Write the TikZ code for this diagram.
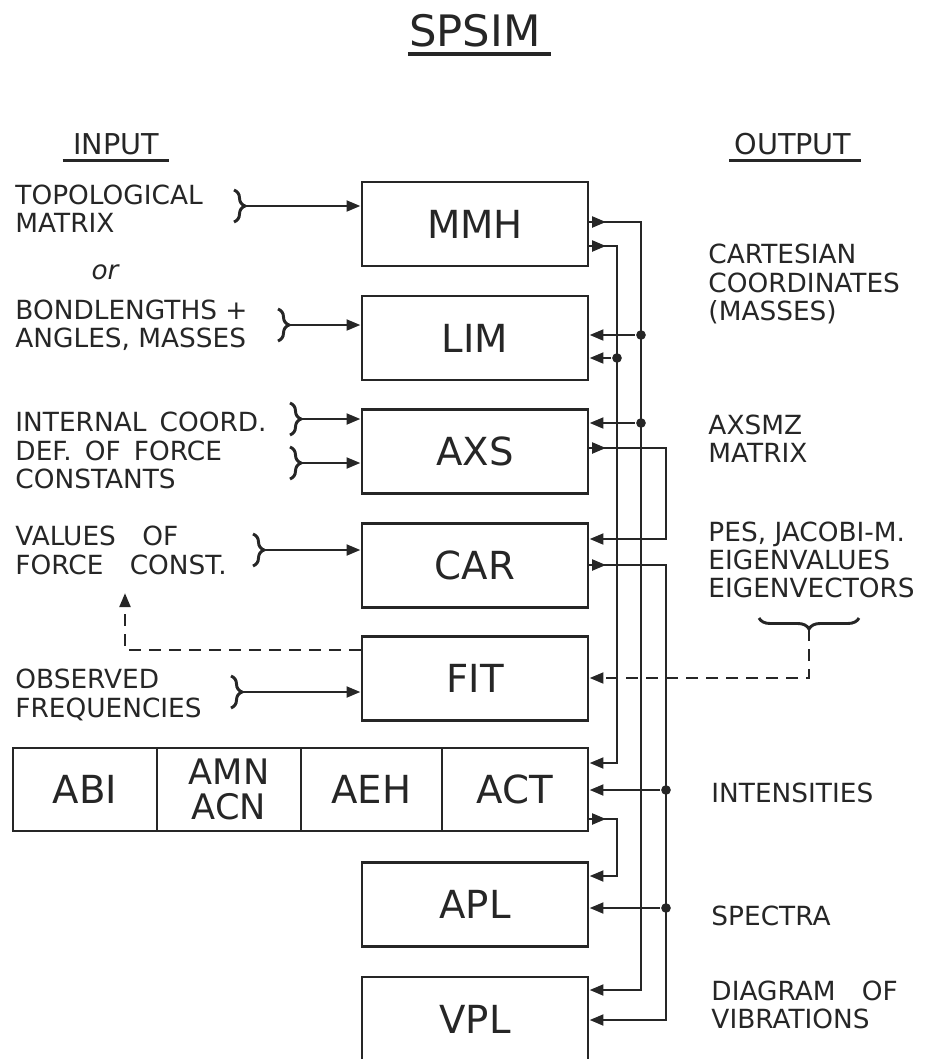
\documentclass[tikz,border=0pt]{standalone}
\usepackage{fontspec}
\setmainfont{DejaVu Sans}
\usetikzlibrary{arrows.meta,positioning,calc,decorations.pathreplacing,decorations.markings}
\definecolor{tinta}{HTML}{262626}

\begin{document}
\begin{tikzpicture}[x=0.03cm,y=-0.03cm,line width=2.5pt,tinta,
  prog/.style={draw,rectangle,minimum width=6.78cm,minimum height=2.52cm,inner sep=0pt,font=\fontsize{33}{36}\selectfont},
  cell/.style={prog,minimum width=4.32cm,minimum height=2.49cm},
  lab/.style={inner sep=0pt,anchor=west,align=left,font=\fontsize{22.5}{24.2}\selectfont},
  head/.style={inner sep=0pt,font=\fontsize{24.5}{26}\selectfont},
  dot/.style={circle,fill=tinta,draw=none,inner sep=0pt,minimum size=0.29cm},
  inarr/.style={-{Triangle[length=0.42cm,width=0.32cm]}},
  outarr/.style={inarr,postaction={decorate},decoration={markings,
    mark=at position 0.5cm with {\arrow{Triangle[length=0.42cm,width=0.32cm]}}}},
  bra/.style={decorate,decoration={brace,amplitude=0.33cm}},
  fb/.style={dash pattern=on 0.36cm off 0.24cm}]
  \useasboundingbox (0,0) rectangle (932,1059);
  \clip (0,0) rectangle (932,1059);
  % headings
  \node[inner sep=0pt,font=\fontsize{37}{40}\selectfont] (title) at (475,31) {SPSIM};
  \draw[line width=3pt] ($(title.south west)+(0,5)$) -- ($(title.south east)+(9,5)$);
  \node[head] (inp) at (116,144) {INPUT};
  \draw ($(inp.south west)+(-9,4)$) -- ($(inp.south east)+(9,4)$);
  \node[head] (outp) at (793,144) {OUTPUT};
  \draw ($(outp.south west)+(-4,4)$) -- ($(outp.south east)+(8,4)$);
  % programs
  \node[prog] (mmh) at (475,224) {MMH};
  \node[prog] (lim) at (475,338) {LIM};
  \node[prog] (axs) at (475,451.5) {AXS};
  \node[prog] (car) at (475,565.5) {CAR};
  \node[prog] (fit) at (475,678.5) {FIT};
  \node[cell] (abi) at (85,789.5) {ABI};
  \node[cell,align=center,font=\fontsize{30}{30}\selectfont] (amn) at (229,789.5) {AMN\\ACN};
  \node[cell,minimum width=4.23cm] (aeh) at (371.5,789.5) {AEH};
  \node[cell,minimum width=4.38cm] (act) at (515,789.5) {ACT};
  \node[prog] (apl) at (475,904.5) {APL};
  \node[prog] (vpl) at (475,1019) {VPL};
  % input side
  \node[lab] (topo) at (14,209) {TOPOLOGICAL\\MATRIX};
  \node[inner sep=0pt,font=\fontsize{22.5}{24}\selectfont\itshape] (or) at (105,272) {or};
  \node[lab] (bond) at (14,325.5) {BONDLENGTHS +\\ANGLES, MASSES};
  \node[lab] (intc) at (14,450.5) {INTERNAL\enspace COORD.\\DEF.\enspace OF\enspace FORCE\\CONSTANTS};
  \node[lab] (valf) at (14,550.5) {VALUES\quad OF\\FORCE\quad CONST.};
  \node[lab] (obsf) at (14,695) {OBSERVED\\FREQUENCIES};
  \draw[bra] (234,190) -- (234,222); \coordinate (b1) at (245,206);
  \draw[bra] (278,309) -- (278,341); \coordinate (b2) at (289,325);
  \draw[bra] (290,403) -- (290,435); \coordinate (b3) at (301,419);
  \draw[bra] (290,447) -- (290,479); \coordinate (b4) at (301,463);
  \draw[bra] (253,534) -- (253,566); \coordinate (b5) at (264,550);
  \draw[bra] (231,676) -- (231,708); \coordinate (b6) at (242,692);
  \draw[inarr] (b1) -- (b1 -| mmh.west);
  \draw[inarr] (b2) -- (b2 -| lim.west);
  \draw[inarr] (b3) -- (b3 -| axs.west);
  \draw[inarr] (b4) -- (b4 -| axs.west);
  \draw[inarr] (b5) -- (b5 -| car.west);
  \draw[inarr] (b6) -- (b6 -| fit.west);
  \coordinate (fk) at (125,593);
  \draw[fb,inarr] (fit.west |- 0,650) -| (fk);
  % output side
  \node[lab] (cart) at (707,284) {CARTESIAN\\COORDINATES\\(MASSES)};
  \node[lab] (axsmz) at (707,438.5) {AXSMZ\\MATRIX};
  \node[lab] (pes) at (707,560) {PES, JACOBI-M.\\EIGENVALUES\\EIGENVECTORS};
  \node[lab] (inten) at (710,793) {INTENSITIES};
  \node[lab] (spec) at (710,916) {SPECTRA};
  \node[lab] (diag) at (710,1005) {DIAGRAM\quad OF\\VIBRATIONS};
  \draw[bra] (859,618) -- (759,618); \coordinate (bt) at (809,629);
  \draw[fb,inarr] (bt) |- (fit.east |- 0,678);
  % buses
  \draw[outarr] (mmh.east |- 0,222) -- (641,222) |- (vpl.east |- 0,990);
  \draw[outarr] (mmh.east |- 0,246) -- (617,246) |- (act.east |- 0,763);
  \draw[outarr] (axs.east |- 0,448) -- (666,448) |- (car.east |- 0,539);
  \draw[outarr] (car.east |- 0,565) -- (666,565) |- (vpl.east |- 0,1020);
  \draw[outarr] (act.east |- 0,819) -- (617,819) |- (apl.east |- 0,876);
  \node[dot] (dl1) at (641,335) {}; \draw[inarr] (dl1) -- (lim.east |- dl1);
  \node[dot] (dl2) at (617,358) {}; \draw[inarr] (dl2) -- (lim.east |- dl2);
  \node[dot] (dx) at (641,423) {}; \draw[inarr] (dx) -- (axs.east |- dx);
  \node[dot] (di) at (666,790) {}; \draw[inarr] (di) -- (act.east |- di);
  \node[dot] (ds) at (666,908) {}; \draw[inarr] (ds) -- (apl.east |- ds);
\end{tikzpicture}
\end{document}
